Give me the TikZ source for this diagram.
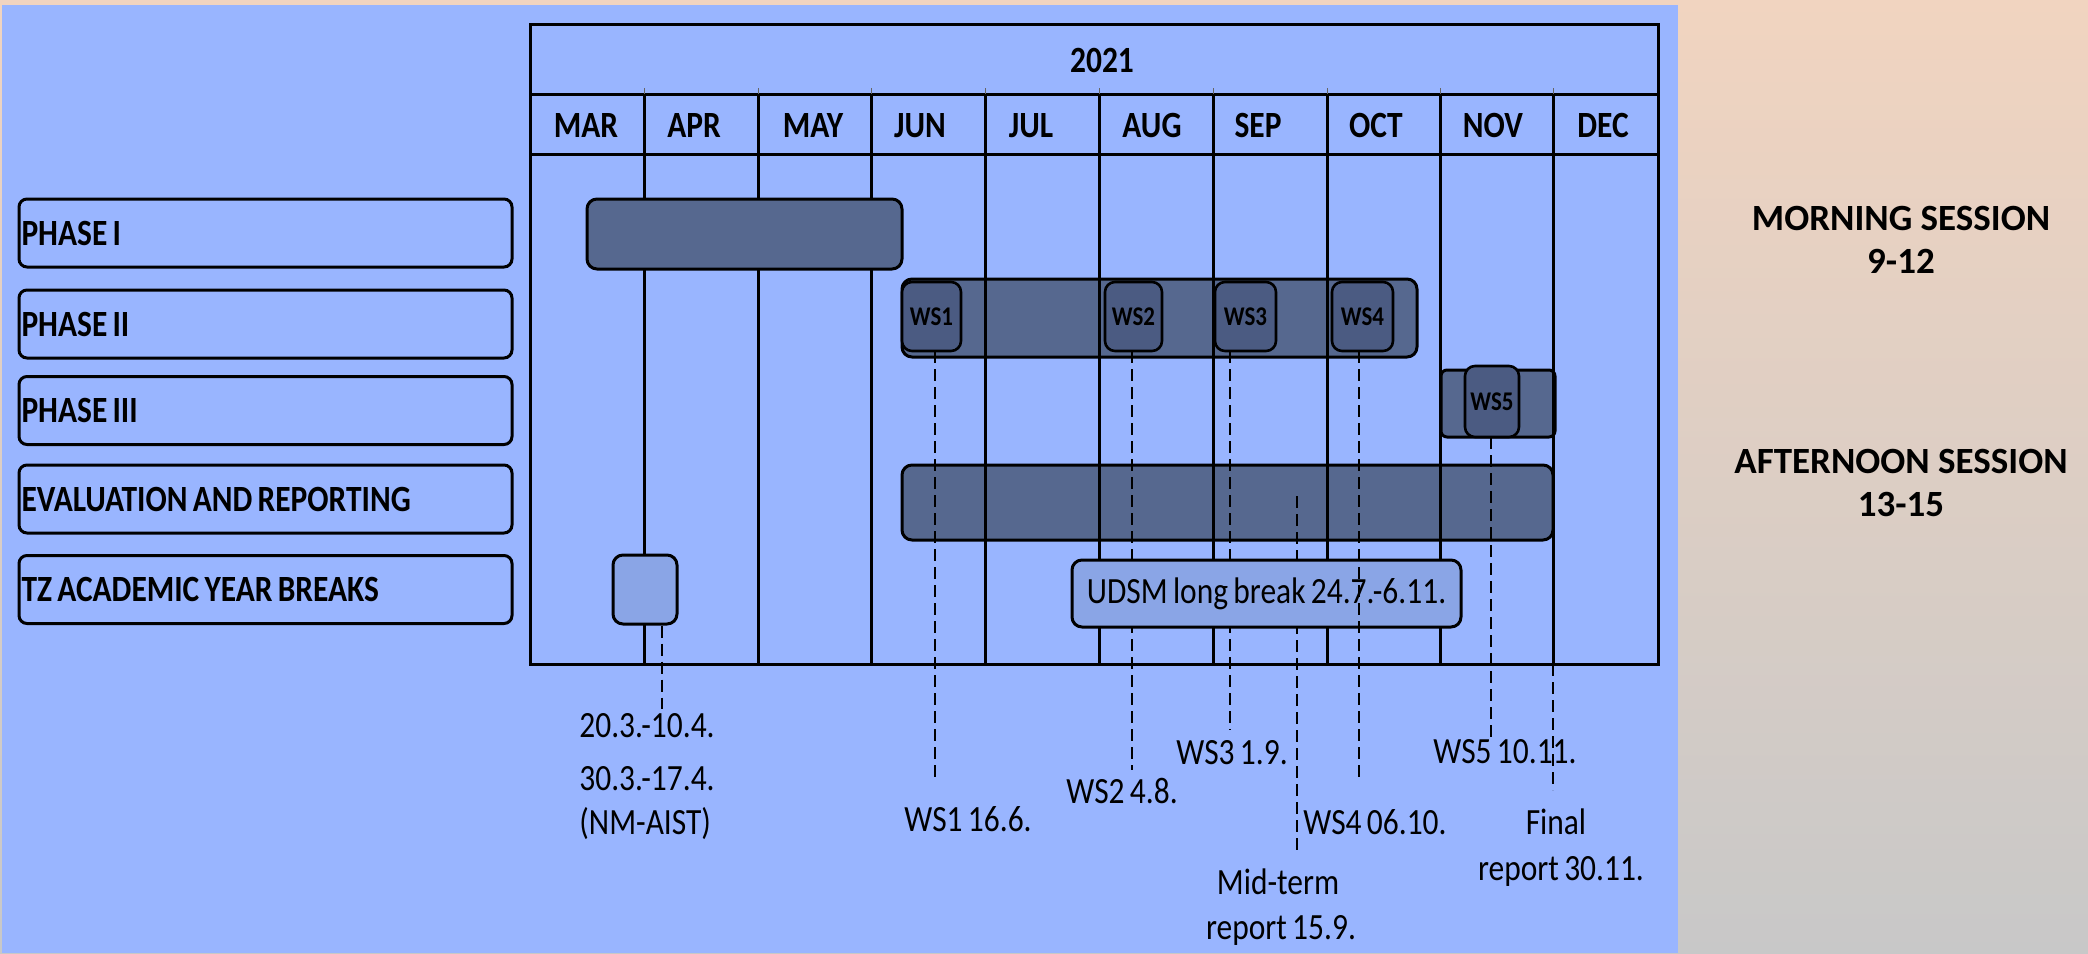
\documentclass[tikz,border=0pt]{standalone}
\usepackage{fontspec}
\setmainfont{Carlito}
\newfontfamily\chartfont[FakeStretch=0.85,WordSpace=0.75]{Carlito}
\newcommand\lblspace{\hspace{2.6pt}}
\definecolor{bgblue}{RGB}{153,181,255}
\definecolor{barfill}{RGB}{86,104,143}
\definecolor{wsfill}{RGB}{75,91,130}
\definecolor{lightbox}{RGB}{138,165,230}
\definecolor{peach}{RGB}{241,212,192}
\definecolor{midgray}{RGB}{229,225,222}
\definecolor{botgray}{RGB}{200,200,200}
\begin{document}
\begin{tikzpicture}[x=0.5pt,y=-0.5pt,
  gridline/.style={line width=1.5pt, draw=black},
  tickline/.style={line width=0.5pt, draw=black!60},
  rowlabel/.style={draw, line width=1.5pt, rounded corners=4pt, minimum width=246.5pt,
    minimum height=34pt, text width=244pt, align=left, inner xsep=1.25pt, inner ysep=0pt,
    font=\chartfont\bfseries\fontsize{18.5}{22}\selectfont},
  bar/.style={draw, line width=1.5pt, fill=barfill, rounded corners=5pt, inner sep=0pt},
  wsbox/.style={draw, line width=1.3pt, fill=wsfill, rounded corners=5pt, inner sep=0pt,
    font=\chartfont\bfseries\fontsize{13.5}{16}\selectfont},
  breakbox/.style={draw, line width=1.5pt, fill=lightbox, rounded corners=5pt, inner sep=0pt},
  month/.style={font=\chartfont\bfseries\fontsize{18.5}{22}\selectfont, anchor=base, inner sep=0pt},
  note/.style={font=\chartfont\fontsize{18.5}{23}\selectfont, inner sep=0pt},
  dashline/.style={line width=1.1pt, dash pattern=on 6pt off 3pt},
  session/.style={font=\bfseries\fontsize{18.5}{22}\selectfont, anchor=base, inner sep=0pt}
]
\path[use as bounding box] (0,0) rectangle (2088,953);
\shade[top color=peach, middle color=midgray, bottom color=botgray] (0,0) rectangle (2088,953);
\fill[bgblue] (2,5) rectangle (1678,953);

% bars under the grid
\node[bar, minimum width=257.5pt, minimum height=39pt] (p2bar) at (1159.5,318) {};
\node[bar, minimum width=57pt, minimum height=33.5pt, rounded corners=3pt] (p3bar) at (1498,403.5) {};
\node[bar, minimum width=325.5pt, minimum height=37.5pt] (evalbar) at (1227.5,502.5) {};

% grid
\draw[gridline] (530,24) rectangle (1658,664);
\draw[gridline] (530,94) -- (1658,94);
\draw[gridline] (530,154) -- (1658,154);
\foreach \x in {644,758,871.5,985,1099,1213,1327,1440.5,1553} {
  \draw[gridline] (\x,94) -- (\x,664);
  \draw[tickline] (\x,88) -- (\x,94);
}

% year and months
\node[month] (year) at (1102,72) {2021};
\node[month] (mar) at (586,137) {MAR};
\node[month] (apr) at (694,137) {APR};
\node[month] (may) at (813,137) {MAY};
\node[month] (jun) at (920,137) {JUN};
\node[month] (jul) at (1031,137) {JUL};
\node[month] (aug) at (1152,137) {AUG};
\node[month] (sep) at (1258,137) {SEP};
\node[month] (oct) at (1376,137) {OCT};
\node[month] (nov) at (1493,137) {NOV};
\node[month] (dec) at (1603,137) {DEC};

% end points of the dashed connectors
\coordinate (tzend) at (662,709);
\coordinate (ws1end) at (935,782);
\coordinate (ws2end) at (1132,770);
\coordinate (ws3end) at (1230,730);
\coordinate (midtop) at (1297,496);
\coordinate (midend) at (1297,855);
\coordinate (ws4end) at (1359,782);
\coordinate (ws5end) at (1491,740);
\coordinate (finaltop) at (1553,664);
\coordinate (finalend) at (1553,790);
\coordinate (wsbottom) at (0,351);
\coordinate (ws5bottom) at (0,437);

% dashed lines under the boxes
\draw[dashline] (ws1end |- wsbottom) -- (ws1end);
\draw[dashline] (ws2end |- wsbottom) -- (ws2end);
\draw[dashline] (ws3end |- wsbottom) -- (ws3end);
\draw[dashline] (midtop) -- (midend);
\draw[dashline] (ws5end |- ws5bottom) -- (ws5end);
\draw[dashline] (finaltop) -- (finalend);

% boxes above the grid
\node[bar, minimum width=157.5pt, minimum height=35pt] (p1bar) at (744.5,234) {};
\node[breakbox, minimum width=32pt, minimum height=34.5pt] (tzbox) at (645,589.5) {};
\node[breakbox, minimum width=194.5pt, minimum height=33.5pt,
  font=\chartfont\fontsize{18.5}{22}\selectfont] (udsm) at (1266.5,593.5)
  {UDSM long break 24.7.-6.11.};

\draw[dashline] (tzend |- tzbox.south) -- (tzend);
\draw[dashline] (ws4end |- wsbottom) -- (ws4end);

% workshop boxes
\node[wsbox, minimum width=29.5pt, minimum height=34.5pt] (ws1) at (931.5,316.5) {WS1};
\node[wsbox, minimum width=28.5pt, minimum height=34.5pt] (ws2) at (1133.5,316.5) {WS2};
\node[wsbox, minimum width=30.5pt, minimum height=34.5pt] (ws3) at (1245.5,316.5) {WS3};
\node[wsbox, minimum width=30.5pt, minimum height=34.5pt] (ws4) at (1362.5,316.5) {WS4};
\node[wsbox, minimum width=27pt, minimum height=35.5pt] (ws5) at (1492,401.5) {WS5};

% row labels
\node[rowlabel] (r1) at (265.5,233) {PHASE\lblspace I};
\node[rowlabel] (r2) at (265.5,324) {PHASE\lblspace II};
\node[rowlabel] (r3) at (265.5,410.5) {PHASE\lblspace III};
\node[rowlabel] (r4) at (265.5,499) {EVALUATION\lblspace AND\lblspace REPORTING};
\node[rowlabel] (r5) at (265.5,589.5) {TZ\lblspace ACADEMIC\lblspace YEAR\lblspace BREAKS};

% notes below the chart
\node[note, anchor=base west] (tz1) at (579,737) {20.3.-10.4.};
\node[note, anchor=base west] (tz2) at (579,790) {30.3.-17.4.};
\node[note, anchor=base west] (tz3) at (579,834) {(NM-AIST)};
\node[note, anchor=base west] (ws1lab) at (904,831) {WS1 16.6.};
\node[note, anchor=base west] (ws2lab) at (1066,803) {WS2 4.8.};
\node[note, anchor=base west] (ws3lab) at (1176,764) {WS3 1.9.};
\node[note, anchor=base] (mid1) at (1278,894) {Mid-term};
\node[note, anchor=base] (mid2) at (1281,939) {report 15.9.};
\node[note, anchor=base west] (ws4lab) at (1303,834) {WS4 06.10.};
\node[note, anchor=base west] (ws5lab) at (1433,763) {WS5 10.11.};
\node[note, anchor=base] (fin1) at (1556,834) {Final};
\node[note, anchor=base] (fin2) at (1561,880) {report 30.11.};

% sessions
\node[session] (morn1) at (1901,230) {MORNING SESSION};
\node[session] (morn2) at (1901,273.5) {9-12};
\node[session] (aft1) at (1901,473) {AFTERNOON SESSION};
\node[session] (aft2) at (1901,516.5) {13-15};
\end{tikzpicture}
\end{document}
